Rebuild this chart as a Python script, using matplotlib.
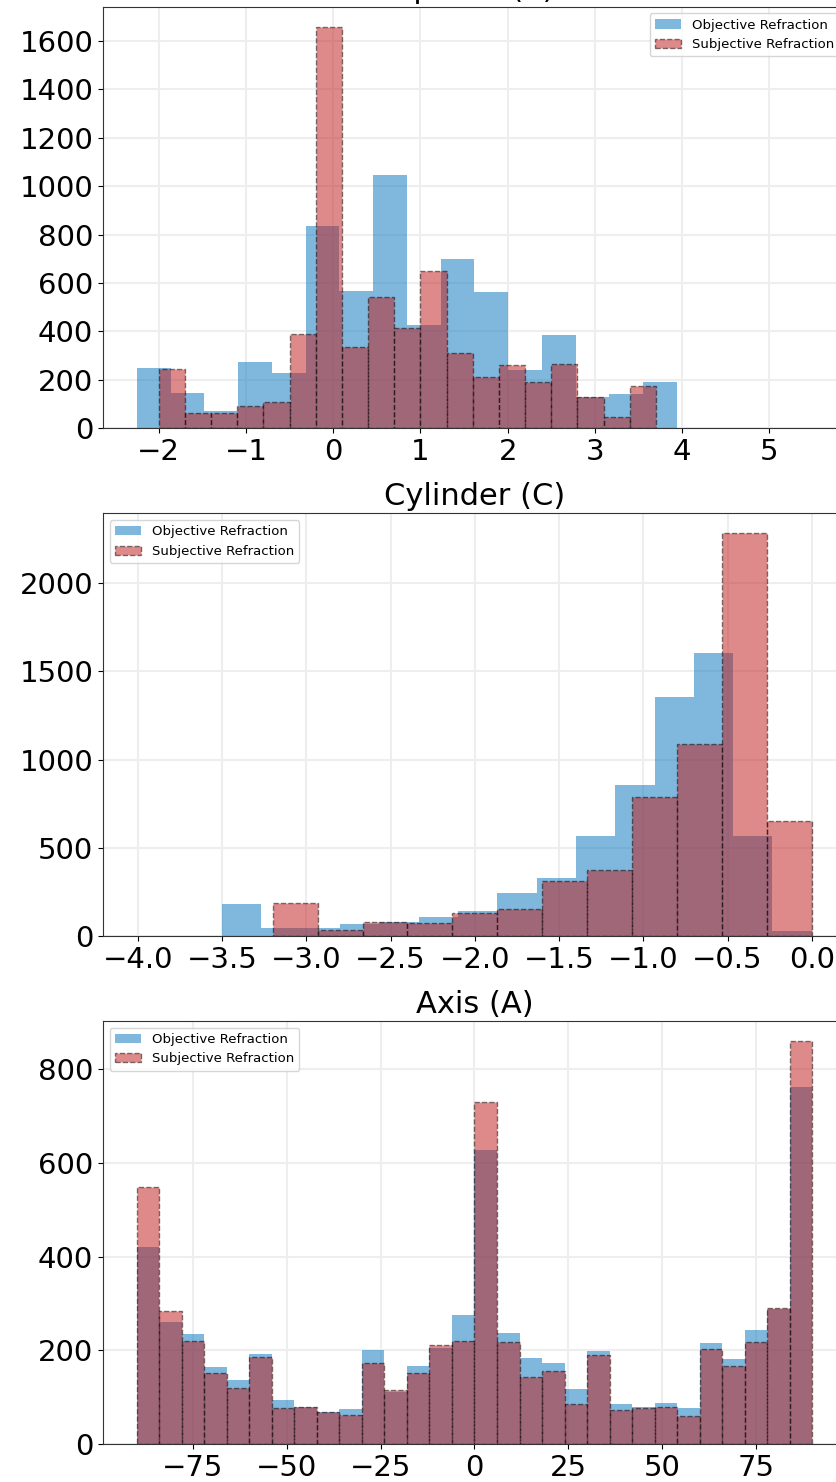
import numpy as np
import matplotlib
matplotlib.use('Agg')
from matplotlib import pyplot as plt
from matplotlib.ticker import MultipleLocator, FuncFormatter

# Sphere (S): objective 16 bins, subjective 19 bins
sph_obj_range = (-2.25, 3.94)
sph_obj_counts = [248, 147, 72, 275, 230, 837, 568, 1045, 427, 700, 563, 241, 384, 128, 143, 193]
sph_sub_range = (-2.0, 3.7)
sph_sub_counts = [246, 65, 65, 92, 109, 388, 1658, 337, 541, 413, 650, 311, 212, 263, 190, 267, 131, 48, 175]

# Cylinder (C): objective 15 bins, subjective 12 bins
cyl_obj_range = (-3.5, 0.0)
cyl_obj_counts = [180, 43, 43, 68, 80, 106, 140, 242, 331, 564, 857, 1352, 1606, 564, 30]
cyl_sub_range = (-3.2, 0.0)
cyl_sub_counts = [185, 34, 81, 72, 132, 153, 312, 375, 787, 1088, 2281, 653]

# Axis (A): 30 bins each
axs_range = (-90, 90)
axs_obj_counts = [421, 261, 235, 164, 137, 192, 94, 80, 68, 74, 201, 112, 167, 204, 275,
                  628, 238, 184, 172, 117, 198, 85, 80, 88, 77, 215, 181, 243, 288, 763]
axs_sub_counts = [548, 283, 220, 152, 119, 186, 76, 80, 68, 62, 172, 115, 152, 211, 220,
                  731, 217, 144, 156, 85, 189, 73, 76, 80, 59, 203, 167, 217, 291, 860]

labels = ['Objective Refraction', 'Subjective Refraction']
blue = '#0073BB'
red = '#C11717'


def edges(rng, counts):
    return np.linspace(rng[0], rng[1], len(counts) + 1)


def draw(ax, obj_rng, obj_counts, sub_rng, sub_counts, title, loc):
    e1 = edges(obj_rng, obj_counts)
    e2 = edges(sub_rng, sub_counts)
    ax.hist(e1[:-1], bins=e1, weights=obj_counts, color=blue, alpha=0.5,
            label=labels[0])
    ax.hist(e2[:-1], bins=e2, weights=sub_counts, color=red, alpha=0.5,
            edgecolor='black', linestyle='--', linewidth=1, label=labels[1])
    ax.set_title(title, fontsize=22)
    ax.tick_params(labelsize=21)
    ax.grid(True, color='#eeeeee', linewidth=1.5)
    ax.set_axisbelow(True)
    for s in ax.spines.values():
        s.set_color('#333333')
    ax.legend(loc=loc, fontsize=9.5)


fig = plt.figure(figsize=(8.36, 14.82), dpi=100)
W, H = 836.0, 1482.0
left = 103 / W
width = 743 / W

ax1 = fig.add_axes([left, 1 - 428.3 / H, width, 421.6 / H])
draw(ax1, sph_obj_range, sph_obj_counts, sph_sub_range, sph_sub_counts, 'Sphere (S)', 'upper right')
ax1.set_xlim(-2.64, 5.88)
ax1.xaxis.set_major_locator(MultipleLocator(1))
ax1.yaxis.set_major_locator(MultipleLocator(200))

ax2 = fig.add_axes([left, 1 - 936 / H, width, 422.7 / H])
draw(ax2, cyl_obj_range, cyl_obj_counts, cyl_sub_range, cyl_sub_counts, 'Cylinder (C)', 'upper left')
ax2.set_xlim(-4.207, 0.203)
ax2.xaxis.set_major_locator(MultipleLocator(0.5))
ax2.xaxis.set_major_formatter(FuncFormatter(lambda v, p: ('%.1f' % v).replace('-', '\u2212')))
ax2.yaxis.set_major_locator(MultipleLocator(500))

ax3 = fig.add_axes([left, 1 - 1444 / H, width, 423 / H])
draw(ax3, axs_range, axs_obj_counts, axs_range, axs_sub_counts, 'Axis (A)', 'upper left')
ax3.xaxis.set_major_locator(MultipleLocator(25))
ax3.yaxis.set_major_locator(MultipleLocator(200))

fig.savefig('out.png', dpi=100)
